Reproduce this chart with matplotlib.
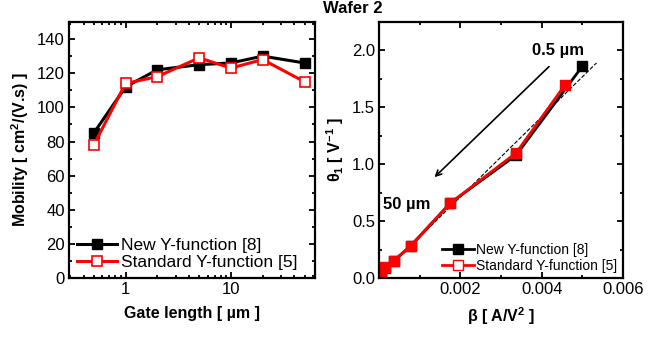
import numpy as np
import matplotlib.pyplot as plt
from matplotlib.lines import Line2D
from matplotlib.ticker import MultipleLocator, LogLocator, NullFormatter, FixedLocator

plt.rcParams['font.family'] = ['Liberation Sans', 'DejaVu Sans']
plt.rcParams['mathtext.default'] = 'regular'

# ----------------------------------------------------
# data
# ----------------------------------------------------
gate_length = [0.5, 1, 2, 5, 10, 20, 50]
mob_new = [85, 112, 122, 125, 126, 130, 126]
mob_std = [78, 114, 118, 129, 123, 128, 115]

beta_new = [0.00500, 0.00337, 0.00175, 0.00077, 0.00035, 0.00013, 0.00005]
theta_new = [1.86, 1.08, 0.66, 0.28, 0.15, 0.085, 0.04]
beta_std = [0.00458, 0.00337, 0.00175, 0.00077, 0.00035, 0.00014, 0.00005]
theta_std = [1.70, 1.10, 0.66, 0.285, 0.152, 0.094, 0.05]

# linear fit through theta vs beta (dashed)
fit_beta = [0.00002, 0.00535]
fit_theta = [0.02, 1.89]

label_new = "New Y-function [8]"
label_std = "Standard Y-function [5]"

fig = plt.figure(figsize=(6.69, 3.38), dpi=100)
ax1 = fig.add_axes([0.103, 0.177, 0.368, 0.758])
ax2 = fig.add_axes([0.567, 0.177, 0.364, 0.758])


def style_axes(ax):
    for s in ax.spines.values():
        s.set_linewidth(1.6)
    ax.tick_params(which='both', direction='in', top=True, right=True,
                   labelsize=12, width=1.3)
    ax.tick_params(which='major', length=4.5, pad=3)
    ax.tick_params(which='minor', length=2.5)


# ---------------- left panel ----------------
ax1.plot(gate_length, mob_new, color='black', lw=2.2, marker='s', ms=7.5,
         mfc='black', mec='black', label=label_new)
ax1.plot(gate_length, mob_std, color='red', lw=2.2, marker='s', ms=7.5,
         mfc='white', mec='red', mew=1.2, label=label_std)
ax1.set_xscale('log')
ax1.set_xlim(0.29, 63)
ax1.set_ylim(0, 150)
ax1.yaxis.set_major_locator(MultipleLocator(20))
ax1.yaxis.set_minor_locator(MultipleLocator(10))
ax1.xaxis.set_major_locator(FixedLocator([1, 10]))
ax1.xaxis.set_major_formatter(plt.FuncFormatter(lambda v, p: f"{v:g}"))
ax1.xaxis.set_minor_locator(LogLocator(base=10, subs=np.arange(2, 10)))
ax1.xaxis.set_minor_formatter(NullFormatter())
style_axes(ax1)
ax1.set_xlabel("Gate length [ µm ]", fontsize=11.5, fontweight='bold', labelpad=6)
ax1.set_ylabel("Mobility [ cm$^2$/(V.s) ]", fontsize=11.5, fontweight='bold',
               labelpad=4)
ax1.legend(loc='lower left', frameon=False, fontsize=12.5, handlelength=2.3,
           borderaxespad=0.15, labelspacing=0.15, handletextpad=0.25,
           borderpad=0.3)

# ---------------- right panel ----------------
ax2.plot(fit_beta, fit_theta, color='black', lw=0.8, ls='--')
ax2.plot(beta_new, theta_new, color='black', lw=2, marker='s', ms=7.5,
         mfc='black', mec='black')
ax2.plot(beta_std, theta_std, color='red', lw=2, marker='s', ms=7.5,
         mfc='red', mec='red')
ax2.set_xlim(0, 0.006)
ax2.set_ylim(0, 2.25)
ax2.xaxis.set_major_locator(FixedLocator([0.002, 0.004, 0.006]))
ax2.xaxis.set_minor_locator(MultipleLocator(0.001))
ax2.yaxis.set_major_locator(MultipleLocator(0.5))
ax2.yaxis.set_minor_locator(MultipleLocator(0.25))
ax2.yaxis.set_major_formatter(plt.FuncFormatter(lambda v, p: f"{v:.1f}"))
style_axes(ax2)
ax2.set_xlabel("β [ A/V$^2$ ]", fontsize=11.5, fontweight='bold', labelpad=6)
ax2.set_ylabel("θ$_1$ [ V$^{-1}$ ]", fontsize=11.5, fontweight='bold',
               labelpad=4)

ax2.annotate("", xy=(0.00131, 0.87), xytext=(0.00423, 1.875),
             arrowprops=dict(arrowstyle='->', color='black', lw=1.2))
ax2.text(0.00441, 2.0, "0.5 µm", fontsize=12, fontweight='bold',
         ha='center', va='center')
ax2.text(0.000685, 0.65, "50 µm", fontsize=12, fontweight='bold',
         ha='center', va='center')

handles = [
    Line2D([], [], color='black', lw=2, marker='s', ms=7, mfc='black', mec='black'),
    Line2D([], [], color='red', lw=2, marker='s', ms=7, mfc='white', mec='red'),
]
ax2.legend(handles, [label_new, label_std], loc='lower right', frameon=False,
           fontsize=10, handlelength=2.3, borderaxespad=0.1,
           labelspacing=0.15, handletextpad=0.15, borderpad=0.3)

fig.text(0.527, 0.975, "Wafer 2", fontsize=12, fontweight='bold',
         ha='center', va='center')

fig.savefig('out.png', dpi=100)
